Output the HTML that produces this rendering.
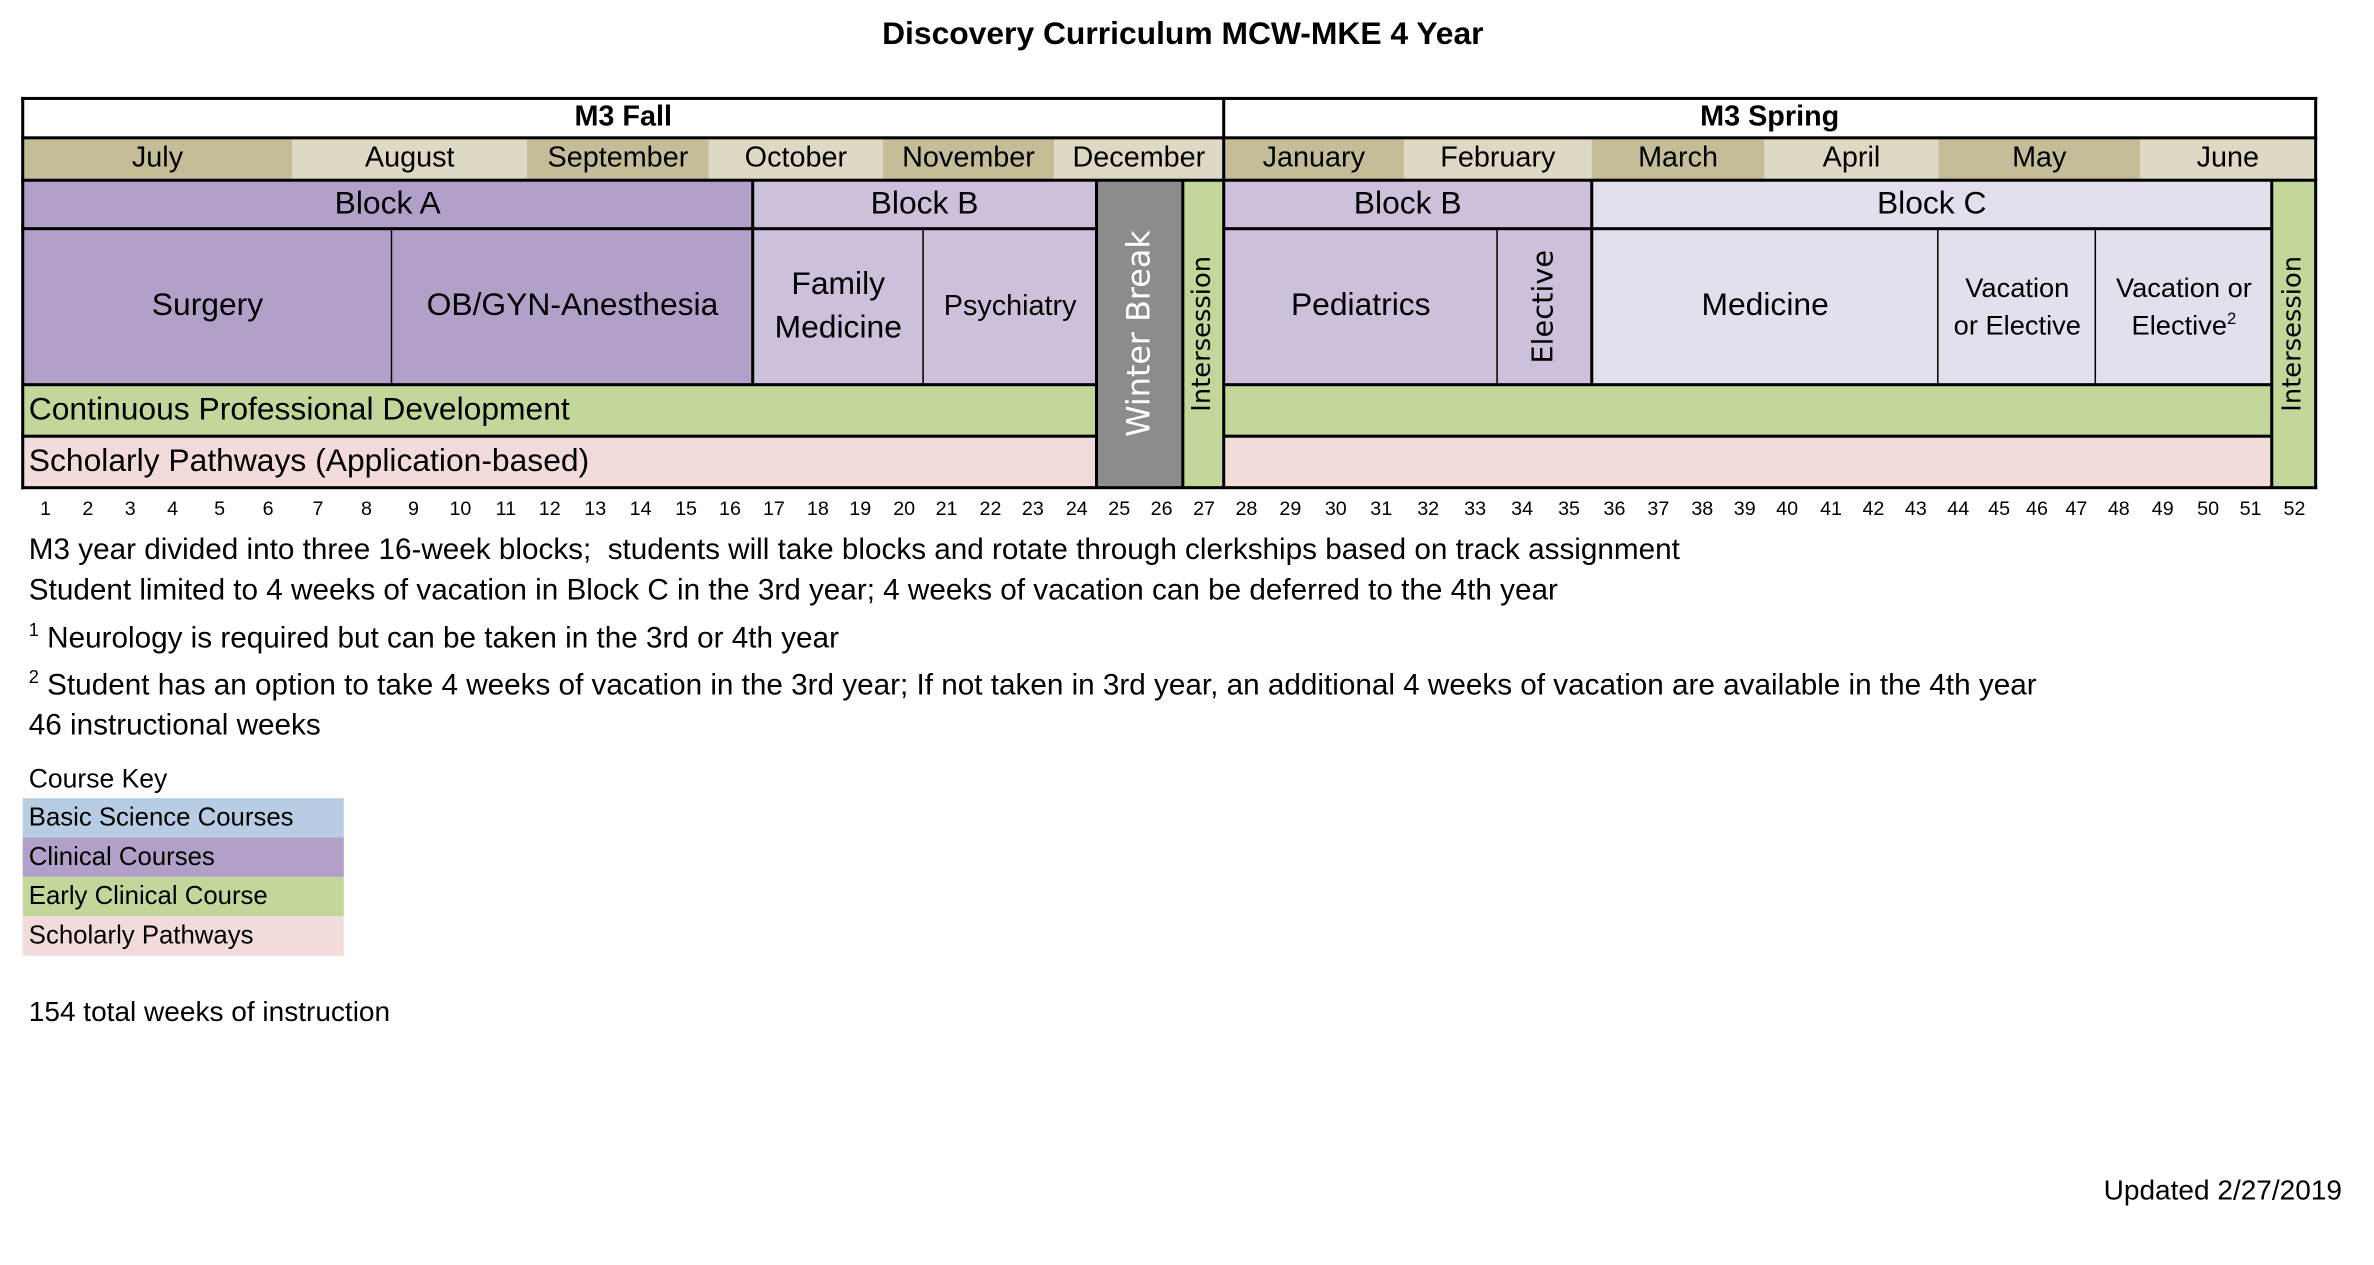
<!DOCTYPE html>
<html><head><meta charset="utf-8"><style>
html,body{margin:0;padding:0;background:#fff;}
body{width:2374px;height:1262px;overflow:hidden;position:relative;}
#s{position:absolute;left:0;top:0;width:1570px;height:835px;transform:scale(1.5145);transform-origin:0 0;font-family:"Liberation Sans",sans-serif;color:#000;}
.c{position:absolute;display:flex;align-items:center;justify-content:center;text-align:center;box-sizing:border-box;line-height:1.35;}
.l{position:absolute;background:#000;}
.v{writing-mode:vertical-rl;transform:rotate(180deg);font-family:"DejaVu Sans",sans-serif;}
.t{position:absolute;font-size:19.6px;white-space:nowrap;}
.w{position:absolute;top:328px;font-size:13px;width:30px;margin-left:-15px;text-align:center;}
</style></head><body><div id="s">
<div class="c" style="left:0;top:8px;width:1562px;height:30px;font-weight:bold;font-size:21px;">Discovery Curriculum MCW-MKE 4 Year</div>

<div class="c" style="left:15px;top:65px;width:793px;height:26px;font-weight:bold;font-size:19px;">M3 Fall</div>
<div class="c" style="left:808px;top:65px;width:721px;height:26px;font-weight:bold;font-size:19px;">M3 Spring</div>

<div class="c" style="left:15px;top:91px;width:178px;height:28px;background:#c4bd97;font-size:19px;">July</div>
<div class="c" style="left:193px;top:91px;width:155px;height:28px;background:#ddd9c4;font-size:19px;">August</div>
<div class="c" style="left:348px;top:91px;width:120px;height:28px;background:#c4bd97;font-size:19px;">September</div>
<div class="c" style="left:468px;top:91px;width:115px;height:28px;background:#ddd9c4;font-size:19px;">October</div>
<div class="c" style="left:583px;top:91px;width:113px;height:28px;background:#c4bd97;font-size:19px;">November</div>
<div class="c" style="left:696px;top:91px;width:112px;height:28px;background:#ddd9c4;font-size:19px;">December</div>
<div class="c" style="left:808px;top:91px;width:119px;height:28px;background:#c4bd97;font-size:19px;">January</div>
<div class="c" style="left:927px;top:91px;width:124px;height:28px;background:#ddd9c4;font-size:19px;">February</div>
<div class="c" style="left:1051px;top:91px;width:114px;height:28px;background:#c4bd97;font-size:19px;">March</div>
<div class="c" style="left:1165px;top:91px;width:115px;height:28px;background:#ddd9c4;font-size:19px;">April</div>
<div class="c" style="left:1280px;top:91px;width:133px;height:28px;background:#c4bd97;font-size:19px;">May</div>
<div class="c" style="left:1413px;top:91px;width:116px;height:28px;background:#ddd9c4;font-size:19px;">June</div>

<div class="c" style="left:15px;top:119px;width:482px;height:32px;background:#b1a0c7;font-size:21px;">Block A</div>
<div class="c" style="left:497px;top:119px;width:227px;height:32px;background:#ccc0da;font-size:21px;">Block B</div>
<div class="c" style="left:808px;top:119px;width:243px;height:32px;background:#ccc0da;font-size:21px;">Block B</div>
<div class="c" style="left:1051px;top:119px;width:449px;height:32px;background:#e4dfec;font-size:21px;">Block C</div>

<div class="c" style="left:15px;top:151px;width:244px;height:103px;background:#b1a0c7;font-size:21px;">Surgery</div>
<div class="c" style="left:259px;top:151px;width:238px;height:103px;background:#b1a0c7;font-size:21px;">OB/GYN-Anesthesia</div>
<div class="c" style="left:497px;top:151px;width:113px;height:103px;background:#ccc0da;font-size:21px;"><span>Family<br>Medicine</span></div>
<div class="c" style="left:610px;top:151px;width:114px;height:103px;background:#ccc0da;font-size:19px;">Psychiatry</div>
<div class="c" style="left:808px;top:151px;width:181px;height:103px;background:#ccc0da;font-size:21px;">Pediatrics</div>
<div class="c" style="left:989px;top:151px;width:62px;height:103px;background:#ccc0da;"><span class="v" style="font-size:19px;">Elective</span></div>
<div class="c" style="left:1051px;top:151px;width:229px;height:103px;background:#e4dfec;font-size:21px;">Medicine</div>
<div class="c" style="left:1280px;top:151px;width:104px;height:103px;background:#e4dfec;font-size:18px;"><span>Vacation<br>or Elective</span></div>
<div class="c" style="left:1384px;top:151px;width:116px;height:103px;background:#e4dfec;font-size:18px;"><span>Vacation or<br>Elective<sup style="font-size:11px;line-height:0">2</sup></span></div>

<div class="c" style="left:15px;top:254px;width:709px;height:34px;background:#c4d79b;font-size:21px;justify-content:flex-start;padding-left:4px;">Continuous Professional Development</div>
<div class="c" style="left:808px;top:254px;width:692px;height:34px;background:#c4d79b;"></div>
<div class="c" style="left:15px;top:288px;width:709px;height:34px;background:#f2dcdb;font-size:21px;justify-content:flex-start;padding-left:4px;">Scholarly Pathways (Application-based)</div>
<div class="c" style="left:808px;top:288px;width:692px;height:34px;background:#f2dcdb;"></div>

<div class="c" style="left:724px;top:119px;width:57px;height:203px;background:#8c8c8c;"><span class="v" style="font-size:21px;color:#fff;">Winter Break</span></div>
<div class="c" style="left:781px;top:119px;width:27px;height:203px;background:#c4d79b;"><span class="v" style="font-size:17px;">Intersession</span></div>
<div class="c" style="left:1500px;top:119px;width:29px;height:203px;background:#c4d79b;"><span class="v" style="font-size:17px;">Intersession</span></div>

<div class="l" style="left:14px;top:64px;width:1516px;height:2px"></div>
<div class="l" style="left:14px;top:90px;width:1516px;height:2px"></div>
<div class="l" style="left:14px;top:118px;width:1516px;height:2px"></div>
<div class="l" style="left:14px;top:150px;width:710px;height:2px"></div>
<div class="l" style="left:808px;top:150px;width:692px;height:2px"></div>
<div class="l" style="left:14px;top:253px;width:710px;height:2px"></div>
<div class="l" style="left:808px;top:253px;width:692px;height:2px"></div>
<div class="l" style="left:14px;top:287px;width:710px;height:2px"></div>
<div class="l" style="left:808px;top:287px;width:692px;height:2px"></div>
<div class="l" style="left:14px;top:321px;width:1516px;height:2px"></div>
<div class="l" style="left:14px;top:64px;width:2px;height:259px"></div>
<div class="l" style="left:1528px;top:64px;width:2px;height:259px"></div>
<div class="l" style="left:807px;top:64px;width:2px;height:259px"></div>
<div class="l" style="left:496px;top:119px;width:1.5px;height:135px"></div>
<div class="l" style="left:723px;top:119px;width:1.5px;height:203px"></div>
<div class="l" style="left:780px;top:119px;width:1.5px;height:203px"></div>
<div class="l" style="left:1050px;top:119px;width:1.5px;height:135px"></div>
<div class="l" style="left:1499px;top:119px;width:1.5px;height:203px"></div>
<div class="l" style="left:258px;top:151px;width:1px;height:103px"></div>
<div class="l" style="left:609px;top:151px;width:1px;height:103px"></div>
<div class="l" style="left:988px;top:151px;width:1px;height:103px"></div>
<div class="l" style="left:1279px;top:151px;width:1px;height:103px"></div>
<div class="l" style="left:1383px;top:151px;width:1px;height:103px"></div>

<div class="w" style="left:30px">1</div><div class="w" style="left:58px">2</div><div class="w" style="left:86px">3</div><div class="w" style="left:114px">4</div><div class="w" style="left:145px">5</div><div class="w" style="left:177px">6</div><div class="w" style="left:210px">7</div><div class="w" style="left:242px">8</div><div class="w" style="left:273px">9</div><div class="w" style="left:304px">10</div><div class="w" style="left:334px">11</div><div class="w" style="left:363px">12</div><div class="w" style="left:393px">13</div><div class="w" style="left:423px">14</div><div class="w" style="left:453px">15</div><div class="w" style="left:482px">16</div><div class="w" style="left:511px">17</div><div class="w" style="left:540px">18</div><div class="w" style="left:568px">19</div><div class="w" style="left:597px">20</div><div class="w" style="left:625px">21</div><div class="w" style="left:654px">22</div><div class="w" style="left:682px">23</div><div class="w" style="left:711px">24</div><div class="w" style="left:739px">25</div><div class="w" style="left:767px">26</div><div class="w" style="left:795px">27</div><div class="w" style="left:823px">28</div><div class="w" style="left:852px">29</div><div class="w" style="left:882px">30</div><div class="w" style="left:912px">31</div><div class="w" style="left:943px">32</div><div class="w" style="left:974px">33</div><div class="w" style="left:1005px">34</div><div class="w" style="left:1036px">35</div><div class="w" style="left:1066px">36</div><div class="w" style="left:1095px">37</div><div class="w" style="left:1124px">38</div><div class="w" style="left:1152px">39</div><div class="w" style="left:1180px">40</div><div class="w" style="left:1209px">41</div><div class="w" style="left:1237px">42</div><div class="w" style="left:1265px">43</div><div class="w" style="left:1293px">44</div><div class="w" style="left:1320px">45</div><div class="w" style="left:1345px">46</div><div class="w" style="left:1371px">47</div><div class="w" style="left:1399px">48</div><div class="w" style="left:1428px">49</div><div class="w" style="left:1458px">50</div><div class="w" style="left:1486px">51</div><div class="w" style="left:1515px">52</div>

<div class="t" style="left:19px;top:352px;">M3 year divided into three 16-week blocks;&nbsp; students will take blocks and rotate through clerkships based on track assignment</div>
<div class="t" style="left:19px;top:379px;">Student limited to 4 weeks of vacation in Block C in the 3rd year; 4 weeks of vacation can be deferred to the 4th year</div>
<div class="t" style="left:19px;top:409px;"><sup style="font-size:12px;">1</sup> Neurology is required but can be taken in the 3rd or 4th year</div>
<div class="t" style="left:19px;top:440px;"><sup style="font-size:12px;">2</sup> Student has an option to take 4 weeks of vacation in the 3rd year; If not taken in 3rd year, an additional 4 weeks of vacation are available in the 4th year</div>
<div class="t" style="left:19px;top:468px;">46 instructional weeks</div>

<div class="t" style="left:19px;top:504px;font-size:17.5px;">Course Key</div>
<div class="c" style="left:15px;top:527px;width:212px;height:26px;background:#b8cce4;font-size:17px;justify-content:flex-start;padding-left:4px;">Basic Science Courses</div>
<div class="c" style="left:15px;top:553px;width:212px;height:26px;background:#b1a0c7;font-size:17px;justify-content:flex-start;padding-left:4px;">Clinical Courses</div>
<div class="c" style="left:15px;top:579px;width:212px;height:26px;background:#c4d79b;font-size:17px;justify-content:flex-start;padding-left:4px;">Early Clinical Course</div>
<div class="c" style="left:15px;top:605px;width:212px;height:26px;background:#f2dcdb;font-size:17px;justify-content:flex-start;padding-left:4px;">Scholarly Pathways</div>

<div class="t" style="left:19px;top:657px;font-size:18.5px;">154 total weeks of instruction</div>
<div class="t" style="left:1389px;top:775px;font-size:18.5px;">Updated 2/27/2019</div>
</div></body></html>
